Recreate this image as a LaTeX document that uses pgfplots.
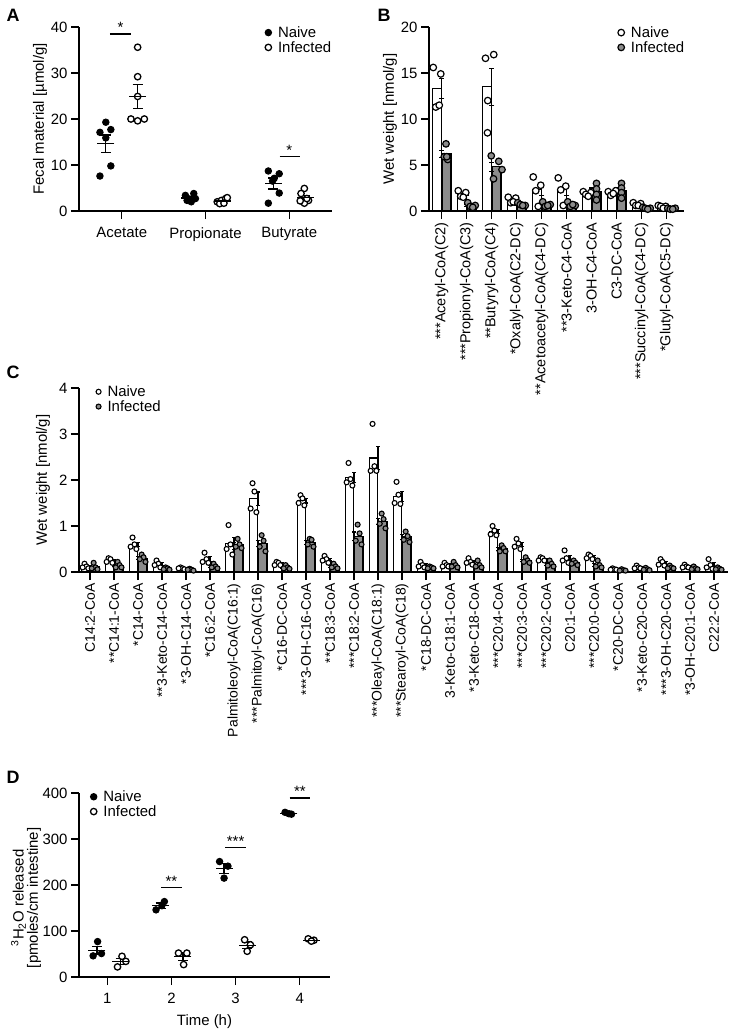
\documentclass[border=0pt]{standalone}
\usepackage{pgfplots}
\pgfplotsset{compat=1.18}
\usepackage{fontspec}
\setmainfont{Liberation Sans}
\setsansfont{Liberation Sans}
\definecolor{infgray}{HTML}{8C8C8C}
\newcommand{\fs}{\fontsize{15}{16}\selectfont}
\newcommand{\fsb}{\fontsize{14.5}{15}\selectfont}
\newcommand{\fsc}{\fontsize{14}{15}\selectfont}
\pgfplotsset{
  prism/.style={
    scale only axis,
    clip=false,
    axis x line*=bottom,
    axis y line*=left,
    axis line style={line width=1.3bp},
    tick align=outside,
    major tick length=8bp,
    tick style={line width=1.3bp, black},
    tick label style={font=\fs},
    label style={font=\fs},
    /pgf/number format/assume math mode=true,
    legend style={draw=none, fill=none, font=\fs, inner sep=0pt, row sep=-1.5bp, column sep=4.5bp},
    legend cell align=left,
    legend image code/.code={\draw[##1] plot coordinates {(0bp,0bp)};},
    ymin=0,
  },
  meanbar/.style={black, line width=1.3bp, only marks, mark=-, mark size=8.5bp, forget plot,
    error bars/y dir=both, error bars/y explicit,
    error bars/error bar style={line width=1.3bp},
    error bars/error mark options={rotate=90, mark size=5bp, line width=1.3bp}},
  filledpt/.style={only marks, mark=*, mark size=3.2bp, mark options={fill=black, draw=black, line width=1bp}},
  openpt/.style={only marks, mark=*, mark size=3.2bp, mark options={fill=white, draw=black, line width=1.3bp}},
  bnaive/.style={only marks, mark=*, mark size=3.3bp, mark options={fill=white, draw=black, line width=1.2bp}},
  binf/.style={only marks, mark=*, mark size=3.3bp, mark options={fill=infgray, draw=black, line width=1.2bp}},
  cnaive/.style={only marks, mark=*, mark size=2.5bp, mark options={fill=white, draw=black, line width=1.1bp}},
  cinf/.style={only marks, mark=*, mark size=2.5bp, mark options={fill=infgray, draw=black, line width=1.1bp}},
  barn/.style={ybar, bar width=0.36, bar shift=-0.19, fill=white, draw=black, line width=1.2bp, forget plot,
    error bars/y dir=both, error bars/y explicit,
    error bars/error bar style={line width=1.2bp},
    error bars/error mark options={rotate=90, mark size=2.5bp, line width=1.2bp}},
  bari/.style={ybar, bar width=0.36, bar shift=0.19, fill=infgray, draw=black, line width=1.2bp, forget plot,
    error bars/y dir=both, error bars/y explicit,
    error bars/error bar style={line width=1.2bp},
    error bars/error mark options={rotate=90, mark size=2.5bp, line width=1.2bp}},
}
\begin{document}
\begin{tikzpicture}
\useasboundingbox (0,0) rectangle (729bp,-1034bp);
\node[font=\bfseries\fontsize{18}{18}\selectfont] at (13bp,-15bp) {A};
\node[font=\bfseries\fontsize{18}{18}\selectfont] at (384bp,-15bp) {B};
\node[font=\bfseries\fontsize{18}{18}\selectfont] at (13bp,-372bp) {C};
\node[font=\bfseries\fontsize{18}{18}\selectfont] at (13bp,-777bp) {D};

% ---------------- Panel A ----------------
\begin{axis}[prism, at={(79bp,-211bp)}, anchor=south west, width=253bp, height=184bp,
  xmin=-0.51, xmax=2.51, ymax=40, ytick={0,10,20,30,40},
  xtick={0,1,2}, xticklabels={Acetate,Propionate,Butyrate},
  xticklabel style={yshift=-5bp},
  ylabel={Fecal material [µmol/g]},
  ylabel style={at={(axis description cs:-0.154,0.5)}, anchor=center},
  legend style={at={(axis description cs:0.735,1.015)}, anchor=north west},
]
\addplot[filledpt] coordinates {(-0.19,19.3) (-0.26,17.1) (-0.13,17.7) (-0.19,15.9) (-0.13,9.8) (-0.26,7.6)
  (0.76,3.4) (0.81,2.6) (0.86,3.8) (0.78,2.3) (0.83,2.0) (0.88,2.7)
  (1.75,8.7) (1.88,8.1) (1.82,7.1) (1.80,6.5) (1.88,3.9) (1.75,1.7)};
\addlegendentry{Naive}
\addplot[openpt] coordinates {(0.19,35.6) (0.19,29.2) (0.19,24.9) (0.11,20.0) (0.19,19.6) (0.27,20.0)
  (1.14,2.0) (1.19,2.3) (1.24,2.7) (1.17,1.6) (1.22,1.7) (1.26,2.9)
  (2.18,4.9) (2.14,3.8) (2.23,2.3) (2.18,1.7) (2.13,2.2) (2.21,2.7)};
\addlegendentry{Infected}
\addplot[meanbar] coordinates {(-0.19,14.6) +- (0,1.9) (0.19,24.9) +- (0,2.6)
  (0.81,2.8) +- (0,0.3) (1.20,2.2) +- (0,0.2)
  (1.81,6.0) +- (0,1.2) (2.19,2.9) +- (0,0.5)};
\draw[line width=1.3bp] (axis cs:-0.14,38.5) -- (axis cs:0.11,38.5);
\node[font=\fs, anchor=south, inner sep=0pt] at (axis cs:-0.015,38.7) {*};
\draw[line width=1.3bp] (axis cs:1.885,11.8) -- (axis cs:2.13,11.8);
\node[font=\fs, anchor=south, inner sep=0pt] at (axis cs:2.0,12.0) {*};
\end{axis}

% ---------------- Panel B ----------------
\begin{axis}[prism, at={(429bp,-211bp)}, anchor=south west, width=255bp, height=184bp,
  xmin=-0.51, xmax=9.69, ymax=20, ytick={0,5,10,15,20},
  xtick={0,...,9},
  xticklabels={***Acetyl-CoA(C2),***Propionyl-CoA(C3),**Butyryl-CoA(C4),*Oxalyl-CoA(C2-DC),**Acetoacetyl-CoA(C4-DC),**3-Keto-C4-CoA,3-OH-C4-CoA,C3-DC-CoA,***Succinyl-CoA(C4-DC),*Glutyl-CoA(C5-DC)},
  xticklabel style={rotate=90, anchor=east, font=\fsb},
  ylabel={Wet weight [nmol/g]},
  ylabel style={at={(axis description cs:-0.153,0.5)}, anchor=center},
  legend style={at={(axis description cs:0.74,1.015)}, anchor=north west},
]
\addplot[barn] coordinates {(0,13.3) +- (0,1.1) (1,1.83) +- (0,0.17) (2,13.5) +- (0,2.0) (3,1.2) +- (0,0.15)
  (4,2.3) +- (0,0.65) (5,2.3) +- (0,0.6) (6,1.85) +- (0,0.1) (7,1.98) +- (0,0.1) (8,0.72) +- (0,0.07) (9,0.47) +- (0,0.06)};
\addplot[bari] coordinates {(0,6.2) +- (0,0.4) (1,0.6) +- (0,0.1) (2,4.8) +- (0,0.5) (3,0.7) +- (0,0.07)
  (4,0.7) +- (0,0.1) (5,0.7) +- (0,0.1) (6,2.1) +- (0,0.4) (7,2.2) +- (0,0.35) (8,0.3) +- (0,0.04) (9,0.25) +- (0,0.03)};
\addplot[bnaive] coordinates {(-0.34,15.6) (-0.04,14.9) (-0.24,11.3) (-0.10,11.5)
  (0.66,2.2) (0.96,2.0) (0.76,1.6) (0.86,1.5)
  (1.75,16.6) (2.08,17.0) (1.84,12.0) (1.83,8.5)
  (2.66,1.5) (2.96,1.4) (2.76,0.9) (2.86,1.0)
  (3.66,3.7) (3.96,2.8) (3.76,2.2) (3.86,0.5)
  (4.66,3.6) (4.96,2.7) (4.76,2.3) (4.86,0.6)
  (5.66,2.1) (5.96,2.0) (5.76,1.8) (5.86,1.6)
  (6.66,2.1) (6.96,2.2) (6.76,1.7) (6.86,1.9)
  (7.66,0.9) (7.96,0.8) (7.76,0.6) (7.86,0.6)
  (8.66,0.6) (8.96,0.5) (8.76,0.5) (8.86,0.3)};
\addlegendentry{Naive}
\addplot[binf] coordinates {(0.17,7.3) (0.10,5.9) (0.24,5.6) (0.20,5.9)
  (1.04,0.9) (1.34,0.6) (1.14,0.5) (1.24,0.4)
  (1.98,6.0) (2.28,5.4) (2.07,3.5) (2.41,4.5)
  (3.04,0.9) (3.34,0.6) (3.14,0.7) (3.24,0.6)
  (4.04,1.0) (4.34,0.7) (4.14,0.5) (4.24,0.6)
  (5.04,1.0) (5.34,0.6) (5.14,0.5) (5.24,0.7)
  (6.19,3.0) (6.19,2.4) (6.19,1.8) (6.19,1.2)
  (7.19,3.0) (7.19,2.5) (7.19,2.0) (7.19,1.4)
  (8.04,0.4) (8.34,0.3) (8.14,0.3) (8.24,0.2)
  (9.04,0.3) (9.34,0.3) (9.14,0.2) (9.24,0.2)};
\addlegendentry{Infected}
\end{axis}

% ---------------- Panel C ----------------
\begin{axis}[prism, at={(79bp,-572bp)}, anchor=south west, width=649bp, height=184bp,
  xmin=-0.46, xmax=26.58, ymax=4, ytick={0,1,2,3,4},
  xtick={0,...,26},
  xticklabels={C14:2-CoA,**C14:1-CoA,*C14-CoA,**3-Keto-C14-CoA,*3-OH-C14-CoA,*C16:2-CoA,Palmitoleoyl-CoA(C16:1),***Palmitoyl-CoA(C16),*C16-DC-CoA,***3-OH-C16-CoA,**C18:3-CoA,***C18:2-CoA,***Oleayl-CoA(C18:1),***Stearoyl-CoA(C18),*C18-DC-CoA,3-Keto-C18:1-CoA,*3-Keto-C18-CoA,***C20:4-CoA,***C20:3-CoA,***C20:2-CoA,C20:1-CoA,***C20:0-CoA,*C20-DC-CoA,*3-Keto-C20-CoA,***3-OH-C20-CoA,*3-OH-C20:1-CoA,C22:2-CoA},
  xticklabel style={rotate=90, anchor=east, font=\fsc},
  ylabel={Wet weight [nmol/g]},
  ylabel style={at={(axis description cs:-0.0555,0.5)}, anchor=center},
  legend style={at={(axis description cs:0.026,1.025)}, anchor=north west},
]
\addplot[barn, error bars/error mark options={rotate=90, mark size=2bp, line width=1.1bp}] coordinates {
  (0,0.12) +- (0,0.02) (1,0.25) +- (0,0.02) (2,0.60) +- (0,0.05) (3,0.17) +- (0,0.03) (4,0.08) +- (0,0.01)
  (5,0.28) +- (0,0.05) (6,0.62) +- (0,0.14) (7,1.59) +- (0,0.15) (8,0.18) +- (0,0.02) (9,1.55) +- (0,0.05)
  (10,0.27) +- (0,0.03) (11,2.05) +- (0,0.11) (12,2.48) +- (0,0.25) (13,1.65) +- (0,0.11) (14,0.15) +- (0,0.03)
  (15,0.15) +- (0,0.02) (16,0.22) +- (0,0.03) (17,0.88) +- (0,0.05) (18,0.60) +- (0,0.05) (19,0.28) +- (0,0.02)
  (20,0.30) +- (0,0.06) (21,0.33) +- (0,0.02) (22,0.06) +- (0,0.01) (23,0.10) +- (0,0.01) (24,0.20) +- (0,0.03)
  (25,0.12) +- (0,0.01) (26,0.15) +- (0,0.05)};
\addplot[bari, error bars/error mark options={rotate=90, mark size=2bp, line width=1.1bp}] coordinates {
  (0,0.11) +- (0,0.03) (1,0.14) +- (0,0.03) (2,0.30) +- (0,0.03) (3,0.07) +- (0,0.01) (4,0.05) +- (0,0.01)
  (5,0.12) +- (0,0.02) (6,0.60) +- (0,0.04) (7,0.62) +- (0,0.07) (8,0.10) +- (0,0.02) (9,0.64) +- (0,0.04)
  (10,0.12) +- (0,0.02) (11,0.78) +- (0,0.09) (12,1.10) +- (0,0.07) (13,0.76) +- (0,0.05) (14,0.10) +- (0,0.01)
  (15,0.15) +- (0,0.03) (16,0.15) +- (0,0.03) (17,0.50) +- (0,0.03) (18,0.25) +- (0,0.03) (19,0.17) +- (0,0.03)
  (20,0.20) +- (0,0.02) (21,0.15) +- (0,0.03) (22,0.04) +- (0,0.01) (23,0.06) +- (0,0.01) (24,0.10) +- (0,0.01)
  (25,0.08) +- (0,0.01) (26,0.07) +- (0,0.01)};
\addplot[cnaive] coordinates {
  (-0.23,0.18) (-0.15,0.12) (-0.31,0.10) (-0.07,0.08)
  (0.77,0.30) (0.85,0.28) (0.69,0.22) (0.93,0.20)
  (1.77,0.75) (1.85,0.60) (1.69,0.55) (1.93,0.50)
  (2.77,0.25) (2.85,0.18) (2.69,0.15) (2.93,0.10)
  (3.77,0.10) (3.85,0.08) (3.69,0.08) (3.93,0.06)
  (4.77,0.42) (4.85,0.28) (4.69,0.22) (4.93,0.20)
  (5.77,1.02) (5.85,0.60) (5.69,0.50) (5.93,0.38)
  (6.77,1.93) (6.85,1.75) (6.69,1.38) (6.93,1.30)
  (7.77,0.22) (7.85,0.20) (7.69,0.15) (7.93,0.15)
  (8.77,1.67) (8.85,1.60) (8.69,1.50) (8.93,1.45)
  (9.77,0.35) (9.85,0.28) (9.69,0.25) (9.93,0.20)
  (10.77,2.37) (10.85,2.02) (10.69,1.95) (10.93,1.88)
  (11.77,3.22) (11.85,2.30) (11.69,2.20) (11.93,2.20)
  (12.77,1.96) (12.85,1.68) (12.69,1.50) (12.93,1.48)
  (13.77,0.22) (13.85,0.15) (13.69,0.12) (13.93,0.10)
  (14.77,0.20) (14.85,0.15) (14.69,0.12) (14.93,0.12)
  (15.77,0.30) (15.85,0.22) (15.69,0.20) (15.93,0.16)
  (16.77,1.00) (16.85,0.90) (16.69,0.82) (16.93,0.80)
  (17.77,0.72) (17.85,0.62) (17.69,0.55) (17.93,0.50)
  (18.77,0.32) (18.85,0.30) (18.69,0.25) (18.93,0.25)
  (19.77,0.47) (19.85,0.30) (19.69,0.25) (19.93,0.20)
  (20.77,0.38) (20.85,0.35) (20.69,0.30) (20.93,0.28)
  (21.77,0.08) (21.85,0.06) (21.69,0.05) (21.93,0.05)
  (22.77,0.14) (22.85,0.10) (22.69,0.08) (22.93,0.08)
  (23.77,0.28) (23.85,0.22) (23.69,0.16) (23.93,0.14)
  (24.77,0.16) (24.85,0.12) (24.69,0.10) (24.93,0.10)
  (25.77,0.28) (25.85,0.15) (25.69,0.10) (25.93,0.07)};
\addlegendentry{Naive}
\addplot[cinf] coordinates {
  (0.15,0.20) (0.23,0.10) (0.07,0.08) (0.31,0.06)
  (1.15,0.22) (1.23,0.15) (1.07,0.10) (1.31,0.10)
  (2.15,0.38) (2.23,0.32) (2.07,0.28) (2.31,0.22)
  (3.15,0.10) (3.23,0.08) (3.07,0.06) (3.31,0.05)
  (4.15,0.07) (4.23,0.05) (4.07,0.05) (4.31,0.03)
  (5.15,0.18) (5.23,0.12) (5.07,0.10) (5.31,0.08)
  (6.15,0.72) (6.23,0.60) (6.07,0.55) (6.31,0.52)
  (7.15,0.80) (7.23,0.68) (7.07,0.55) (7.31,0.45)
  (8.15,0.15) (8.23,0.10) (8.07,0.08) (8.31,0.07)
  (9.15,0.72) (9.23,0.70) (9.07,0.60) (9.31,0.55)
  (10.15,0.18) (10.23,0.12) (10.07,0.10) (10.31,0.08)
  (11.15,1.03) (11.23,0.84) (11.07,0.68) (11.31,0.60)
  (12.15,1.27) (12.23,1.15) (12.07,1.05) (12.31,0.95)
  (13.15,0.88) (13.23,0.78) (13.07,0.70) (13.31,0.65)
  (14.15,0.12) (14.23,0.10) (14.07,0.08) (14.31,0.08)
  (15.15,0.22) (15.23,0.15) (15.07,0.12) (15.31,0.10)
  (16.15,0.25) (16.23,0.15) (16.07,0.12) (16.31,0.10)
  (17.15,0.58) (17.23,0.52) (17.07,0.45) (17.31,0.45)
  (18.15,0.32) (18.23,0.25) (18.07,0.22) (18.31,0.20)
  (19.15,0.25) (19.23,0.18) (19.07,0.14) (19.31,0.12)
  (20.15,0.25) (20.23,0.20) (20.07,0.18) (20.31,0.15)
  (21.15,0.25) (21.23,0.15) (21.07,0.12) (21.31,0.10)
  (22.15,0.06) (22.23,0.04) (22.07,0.03) (22.31,0.03)
  (23.15,0.09) (23.23,0.06) (23.07,0.05) (23.31,0.04)
  (24.15,0.14) (24.23,0.10) (24.07,0.08) (24.31,0.08)
  (25.15,0.12) (25.23,0.08) (25.07,0.06) (25.31,0.06)
  (26.15,0.10) (26.23,0.07) (26.07,0.06) (26.31,0.05)};
\addlegendentry{Infected}
\end{axis}

% ---------------- Panel D ----------------
\begin{axis}[prism, at={(79bp,-977bp)}, anchor=south west, width=251bp, height=184bp,
  xmin=0.56, xmax=4.47, ymax=400, ytick={0,100,200,300,400}, xtick={1,2,3,4},
  xticklabel style={yshift=-5bp},
  xlabel={Time (h)},
  xlabel style={yshift=-4bp},
  ylabel={\textsuperscript{3}H\textsubscript{2}O released\\{[pmoles/cm intestine]}},
  ylabel style={at={(axis description cs:-0.211,0.43)}, anchor=center, align=center, font=\fontsize{15}{14.5}\selectfont},
  legend style={at={(axis description cs:0.045,1.025)}, anchor=north west},
]
\addplot[filledpt] coordinates {(0.85,77) (0.78,46) (0.91,51)
  (1.76,146) (1.89,164) (1.85,155)
  (2.75,251) (2.88,241) (2.82,215)
  (3.77,358) (3.83,355) (3.87,354)};
\addlegendentry{Naive}
\addplot[openpt] coordinates {(1.23,45) (1.16,22) (1.29,34)
  (2.11,52) (2.24,52) (2.19,27)
  (3.14,81) (3.23,70) (3.18,56)
  (4.13,83) (4.22,80) (4.18,78)};
\addlegendentry{Infected}
\addplot[meanbar] coordinates {(0.84,58) +- (0,9) (1.21,34) +- (0,7)
  (1.83,155) +- (0,6) (2.18,44) +- (0,8)
  (2.82,236) +- (0,11) (3.18,69) +- (0,7)
  (3.83,356) +- (0,1.5) (4.18,80) +- (0,1.5)};
\draw[line width=1.3bp] (axis cs:1.84,195) -- (axis cs:2.16,195);
\node[font=\fs, anchor=south, inner sep=0pt] at (axis cs:2.0,197) {**};
\draw[line width=1.3bp] (axis cs:2.84,281) -- (axis cs:3.16,281);
\node[font=\fs, anchor=south, inner sep=0pt] at (axis cs:3.0,283) {***};
\draw[line width=1.3bp] (axis cs:3.84,389) -- (axis cs:4.16,389);
\node[font=\fs, anchor=south, inner sep=0pt] at (axis cs:4.0,391) {**};
\end{axis}
\end{tikzpicture}
\end{document}
